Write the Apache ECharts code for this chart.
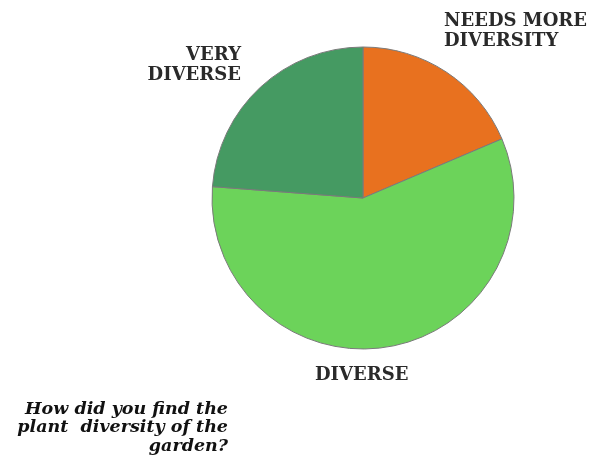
<!DOCTYPE html>
<html>
<head>
<meta charset="utf-8">
<script src="https://cdn.jsdelivr.net/npm/echarts@6/dist/echarts.min.js"></script>
<style>html,body{margin:0;padding:0;background:#fff;}#c{width:591px;height:470px;}</style>
</head>
<body>
<div id="c"></div>
<script>
var categories = ['NEEDS MORE\nDIVERSITY', 'DIVERSE', 'VERY\nDIVERSE'];
var values = [18.6, 57.6, 23.8];
var colors = ['#E8711F', '#6CD35A', '#459A62'];
var titleText = 'How did you find the\nplant  diversity of the\ngarden?';

var labelPos = [
  {x: 444, y: 31, align: 'left'},
  {x: 315, y: 375, align: 'left'},
  {x: 241, y: 65, align: 'right'}
];

var chart = echarts.init(document.getElementById('c'), null, {renderer: 'canvas'});
chart.setOption({
  animation: false,
  graphic: [{
    type: 'text',
    x: 228, y: 400,
    style: {
      text: titleText,
      textAlign: 'right',
      textVerticalAlign: 'top',
      font: 'italic bold 17.5px "DejaVu Serif"',
      lineHeight: 18.5,
      fill: '#111'
    }
  }],
  series: [{
    type: 'pie',
    center: [363, 198],
    radius: 151,
    startAngle: 90,
    clockwise: true,
    itemStyle: {borderColor: '#7a7a7a', borderWidth: 1},
    label: {
      show: true,
      position: 'outside',
      fontFamily: 'DejaVu Serif',
      fontWeight: 'bold',
      fontSize: 18,
      color: '#2a2a2a',
      lineHeight: 20,
      overflow: 'none',
      formatter: function (p) { return p.name; }
    },
    labelLine: {show: false},
    labelLayout: function (p) {
      var lp = labelPos[p.dataIndex];
      return {x: lp.x, y: lp.y, align: lp.align, verticalAlign: 'middle'};
    },
    data: categories.map(function (c, i) {
      return {name: c, value: values[i], itemStyle: {color: colors[i]}, label: {align: labelPos[i].align}};
    })
  }]
});
</script>
</body>
</html>
